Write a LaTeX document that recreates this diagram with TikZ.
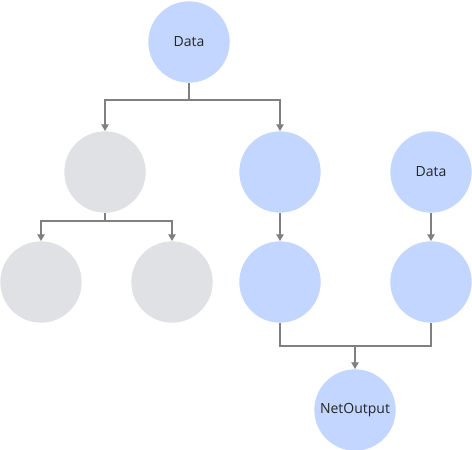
\documentclass[tikz,border=0pt]{standalone}
\usepackage{fontspec}
\setmainfont{Open Sans}
\usetikzlibrary{arrows.meta, positioning}
\definecolor{nodeBlue}{RGB}{194, 214, 255}
\definecolor{nodeGray}{RGB}{224, 225, 229}
\definecolor{linkGray}{RGB}{128, 128, 128}

\begin{document}
\begin{tikzpicture}[x=0.75pt, y=-0.75pt, font=\fontsize{10.5}{12}\selectfont,
    op/.style={circle, minimum size=61pt, inner sep=0pt, text=black!85},
    live/.style={op, fill=nodeBlue},
    dead/.style={op, fill=nodeGray},
    link/.style={draw=linkGray, line width=0.8pt, -{Triangle[length=5pt, width=5.5pt]}}]
  \useasboundingbox (0,0) rectangle (472,450);

  % Nodes
  \node[live] (data) at (189,42) {Data};
  \node[dead] (cutA) at (105,172) {};
  \node[live] (keepA) at (280,172) {};
  \node[live] (dataB) at (431,172) {Data};
  \node[dead] (cutB) at (41,282) {};
  \node[dead] (cutC) at (172,282) {};
  \node[live] (keepB) at (280,282) {};
  \node[live] (keepC) at (431,282) {};
  \node[live] (out) at (355,410) {NetOutput};

  % Branch points
  \coordinate (splitA) at (189,100);
  \coordinate (splitB) at (105,221);
  \coordinate (merge) at (355,346);

  % Connectors
  \draw[link] (data.south) -- (splitA) -| (cutA.north);
  \draw[link] (splitA) -| (keepA.north);
  \draw[link] (cutA.south) -- (splitB) -| (cutB.north);
  \draw[link] (splitB) -| (cutC.north);
  \draw[link] (keepA) -- (keepB);
  \draw[link] (dataB) -- (keepC);
  \draw[draw=linkGray, line width=0.8pt] (keepB.south) |- (merge) -| (keepC.south);
  \draw[link] (merge) -- (out.north);
\end{tikzpicture}
\end{document}
